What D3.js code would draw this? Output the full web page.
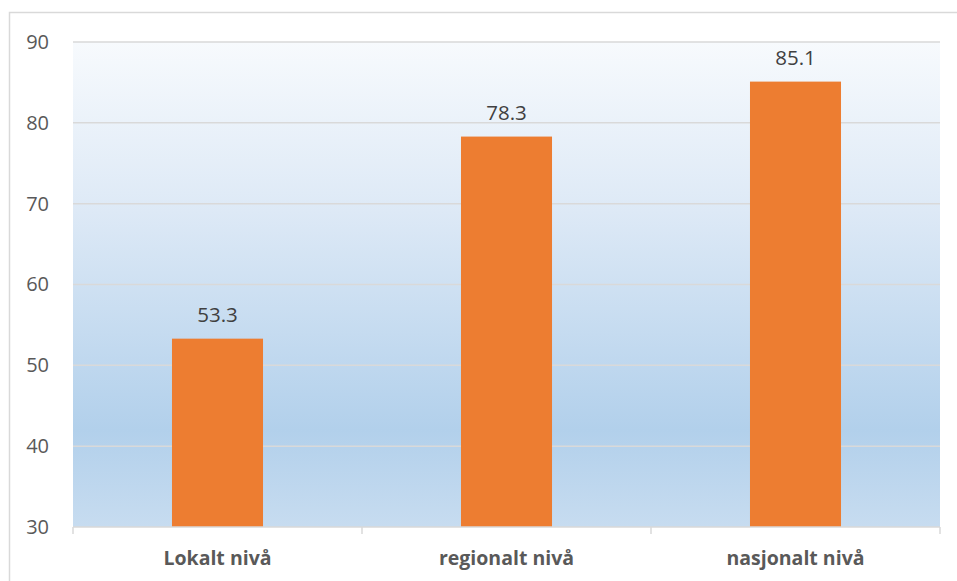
<!DOCTYPE html>
<html>
<head>
<meta charset="utf-8">
<script src="https://cdn.jsdelivr.net/npm/d3@7"></script>
<style>
  html, body { margin: 0; padding: 0; background: #ffffff; }
  svg { display: block; }
</style>
</head>
<body>
<svg id="chart" width="957" height="581"></svg>
<script>
// Chart data
const categories = ["Lokalt nivå", "regionalt nivå", "nasjonalt nivå"];
const values = [53.3, 78.3, 85.1];
const yTicks = [30, 40, 50, 60, 70, 80, 90];

const W = 957, H = 581;
const margin = { left: 73, right: 17, top: 42, bottom: 54 };
const innerW = W - margin.left - margin.right;
const innerH = H - margin.top - margin.bottom;

const svg = d3.select("#chart");
const font = "'Open Sans', 'DejaVu Sans', sans-serif";

// Outer chart frame
svg.append("rect")
  .attr("x", 9.5).attr("y", 12.5)
  .attr("width", W + 10).attr("height", H + 10)
  .attr("fill", "none").attr("stroke", "#d9d9d9").attr("stroke-width", 1.5);

// Plot background gradient
const defs = svg.append("defs");
const grad = defs.append("linearGradient")
  .attr("id", "plotBg").attr("x1", 0).attr("y1", 0).attr("x2", 0).attr("y2", 1);
grad.append("stop").attr("offset", "0%").attr("stop-color", "#f7fafd");
grad.append("stop").attr("offset", "35%").attr("stop-color", "#dde9f6");
grad.append("stop").attr("offset", "80%").attr("stop-color", "#b2d0eb");
grad.append("stop").attr("offset", "100%").attr("stop-color", "#c7dcf0");

const x = d3.scaleBand().domain(categories).range([0, innerW]).paddingInner(0.685).paddingOuter(0.3425);
const y = d3.scaleLinear().domain([30, 90]).range([innerH, 0]);

const g = svg.append("g").attr("transform", `translate(${margin.left},${margin.top})`);

g.append("rect")
  .attr("x", 0).attr("y", 0).attr("width", innerW).attr("height", innerH)
  .attr("fill", "url(#plotBg)");

// Horizontal gridlines
g.append("g")
  .selectAll("line")
  .data(yTicks.filter(t => t !== 30))
  .join("line")
  .attr("x1", 0).attr("x2", innerW)
  .attr("y1", d => y(d)).attr("y2", d => y(d))
  .attr("stroke", "#d9d9d9").attr("stroke-width", 1.5);

// Y axis labels
const yAxis = g.append("g")
  .call(d3.axisLeft(y).tickValues(yTicks).tickSize(0).tickPadding(24).tickFormat(d3.format("d")));
yAxis.select(".domain").remove();
yAxis.selectAll("text")
  .attr("fill", "#595959").style("font-family", font).style("font-size", "20px");

// Bars
g.append("g")
  .selectAll("rect")
  .data(values)
  .join("rect")
  .attr("x", (d, i) => x(categories[i]))
  .attr("y", d => y(d))
  .attr("width", x.bandwidth())
  .attr("height", d => innerH - y(d))
  .attr("fill", "#ed7d31");

// Value labels
g.append("g")
  .selectAll("text")
  .data(values)
  .join("text")
  .attr("x", (d, i) => x(categories[i]) + x.bandwidth() / 2)
  .attr("y", d => y(d) - 17)
  .attr("text-anchor", "middle")
  .attr("fill", "#404040")
  .style("font-family", font).style("font-size", "20.5px")
  .text(d => d.toFixed(1));

// X axis line with boundary ticks
const step = innerW / categories.length;
const xAxisG = g.append("g").attr("transform", `translate(0,${innerH})`);
xAxisG.append("line")
  .attr("x1", 0).attr("x2", innerW).attr("y1", 0).attr("y2", 0)
  .attr("stroke", "#d9d9d9").attr("stroke-width", 1.5);
xAxisG.selectAll("line.tick")
  .data(d3.range(categories.length + 1))
  .join("line").attr("class", "tick")
  .attr("x1", i => i * step).attr("x2", i => i * step)
  .attr("y1", 0).attr("y2", 7)
  .attr("stroke", "#d9d9d9").attr("stroke-width", 1.5);
xAxisG.selectAll("text")
  .data(categories)
  .join("text")
  .attr("x", d => x(d) + x.bandwidth() / 2)
  .attr("y", 38)
  .attr("text-anchor", "middle")
  .attr("fill", "#595959")
  .style("font-family", font).style("font-size", "19.5px").style("font-weight", "bold")
  .text(d => d);
</script>
</body>
</html>
